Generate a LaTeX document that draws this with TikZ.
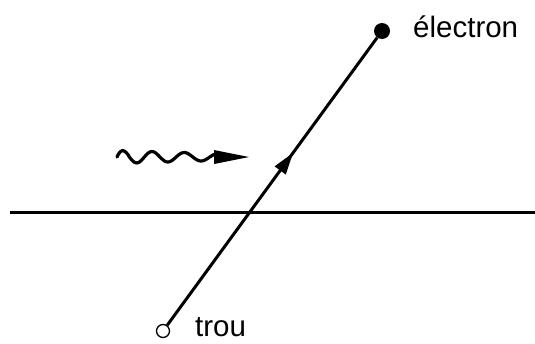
\documentclass[tikz,border=0pt]{standalone}
\usepackage{fontspec}
\setmainfont{Liberation Sans}
\usetikzlibrary{arrows.meta,decorations.markings}
\tikzset{
  thick line/.style={line width=3pt},
  lbl/.style={font=\fontsize{29.5}{33}\selectfont, inner sep=0pt}
}
\begin{document}
\begin{tikzpicture}[x=1pt,y=-1pt]
\useasboundingbox (0,0) rectangle (535,343);
% horizontal line
\coordinate (hl) at (10,212);
\coordinate (hr) at (535,212);
\draw[thick line] (hl) -- (hr);
% particles
\node[circle, draw, fill=white, line width=1.3pt, minimum size=13pt, inner sep=0pt] (trou) at (163,331) {};
\node[circle, fill=black, minimum size=16pt, inner sep=0pt] (el) at (382,31) {};
\draw[thick line, postaction={decorate}, decoration={markings, mark=at position 0.6 with {\arrow{Triangle[length=22pt,width=13pt]}}}] (trou) -- (el);
% labels
\node[lbl, anchor=west] (ltrou) at (195,327) {trou};
\node[lbl, anchor=west] (lel) at (413,27) {électron};
% wavy photon
\draw[line width=3.2pt, line cap=round, smooth, domain=0:1, samples=80]
  plot ({117+98*\x}, {157-6.5*(1-0.45*\x)*sin(deg(2*pi*3.15*\x^0.9))});
\fill (214,150) -- (249,157) -- (214,164) -- cycle;
\end{tikzpicture}
\end{document}
